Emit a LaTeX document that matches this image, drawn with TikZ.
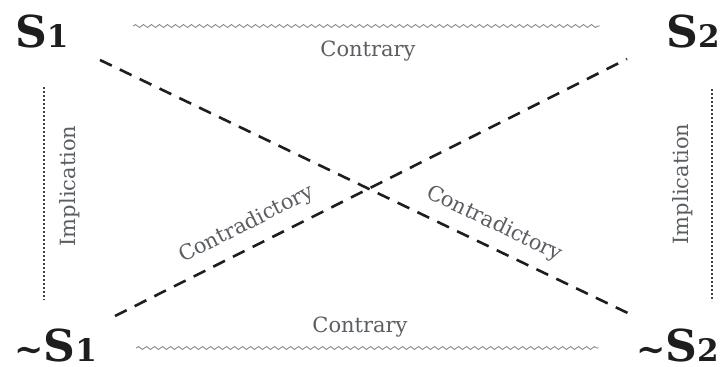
\documentclass[tikz,border=0pt]{standalone}
\usepackage{fontspec}
\setmainfont{DejaVu Serif}
\usetikzlibrary{decorations.pathmorphing}
\definecolor{labelgray}{HTML}{5A5E62}
\definecolor{linegray}{HTML}{8A8A8A}
\definecolor{ink}{HTML}{1E1E1E}
\tikzset{
  term/.style={inner sep=0pt, text depth=0pt, text=ink, font=\bfseries\fontsize{44}{44}\selectfont},
  lbl/.style={inner sep=0pt, text=labelgray, font=\fontsize{21}{21}\selectfont},
  wavy/.style={draw=linegray, line width=0.9pt, decorate, decoration={snake, amplitude=1.4pt, segment length=8pt}},
  dotline/.style={draw=ink!85, line width=2.5pt, dash pattern=on 2pt off 2pt},
  dashline/.style={draw=ink, line width=2.6pt, dash pattern=on 13pt off 9pt}
}
\newcommand{\subn}[1]{{\fontsize{31}{31}\selectfont #1}}
\newcommand{\tl}{{\fontsize{35}{35}\selectfont\char`\~}}
\begin{document}
\begin{tikzpicture}[x=1pt,y=-1pt]
\useasboundingbox (0,0) rectangle (726,367);
% terms
\node[term, anchor=base west] (S1) at (15,47) {S\subn{1}};
\node[term, anchor=base east] (S2) at (720,47) {S\subn{2}};
\node[term, anchor=base west] (nS1) at (14,361) {\tl S\subn{1}};
\node[term, anchor=base east] (nS2) at (719,361) {\tl S\subn{2}};
% contrary wavy lines
\coordinate (ct1) at (133,26);
\coordinate (ct2) at (600,26);
\coordinate (cb1) at (136,348);
\coordinate (cb2) at (599,348);
\draw[wavy] (ct1) -- (ct2);
\draw[wavy] (cb1) -- (cb2);
\node[lbl] (contraryTop) at (368,51) {Contrary};
\node[lbl] (contraryBot) at (360,327) {Contrary};
% implication dotted lines
\coordinate (il1) at (44,87);
\coordinate (il2) at (44,300);
\coordinate (ir1) at (712,89);
\coordinate (ir2) at (712,301);
\draw[dotline] (il1) -- (il2);
\draw[dotline] (ir1) -- (ir2);
\node[lbl, rotate=90] (implL) at (70,186) {Implication};
\node[lbl, rotate=90] (implR) at (683,184) {Implication};
% contradictory dashed lines
\coordinate (d1a) at (100,60);
\coordinate (d1b) at (634,316);
\coordinate (d2a) at (115,316);
\coordinate (d2b) at (627,59);
\draw[dashline] (d1a) -- (d1b) node[lbl, sloped, pos=0.72, above=11pt] (contraR) {Contradictory};
\draw[dashline] (d2a) -- (d2b) node[lbl, sloped, pos=0.277, above=11pt] (contraL) {Contradictory};
\end{tikzpicture}
\end{document}
